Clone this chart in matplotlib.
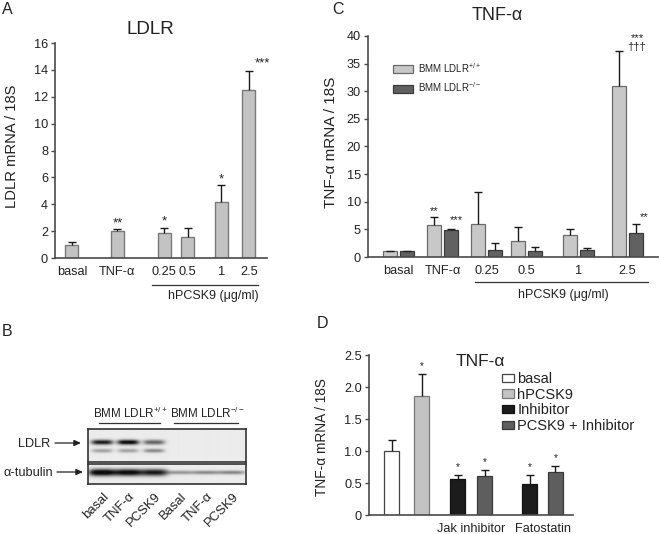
import numpy as np
import matplotlib
matplotlib.use('Agg')
import matplotlib.pyplot as plt
from matplotlib.patches import Patch, FancyArrowPatch
from matplotlib.lines import Line2D

plt.rcParams['font.family'] = ['Liberation Sans', 'DejaVu Sans']
plt.rcParams['mathtext.fontset'] = 'custom'
plt.rcParams['mathtext.rm'] = 'Liberation Sans'
plt.rcParams['mathtext.it'] = 'Liberation Sans'

# ---------------- data ----------------
# Panel A: LDLR mRNA
a_categories = ['basal', 'TNF-α', '0.25', '0.5', '1', '2.5']
a_values = [1.0, 2.0, 1.85, 1.6, 4.2, 12.5]
a_errors = [0.2, 0.15, 0.4, 0.6, 1.2, 1.45]
a_stars = ['', '**', '*', '', '*', '***']
a_yticks = [0, 2, 4, 6, 8, 10, 12, 14, 16]

# Panel C: TNF-alpha mRNA in two genotypes
c_categories = ['basal', 'TNF-α', '0.25', '0.5', '1', '2.5']
c_series = ['BMM LDLR$^{+/+}$', 'BMM LDLR$^{-/-}$']
c_wt_values = [1.0, 5.8, 5.9, 2.9, 4.0, 31.0]
c_wt_errors = [0.1, 1.5, 5.8, 2.6, 1.0, 6.2]
c_ko_values = [1.0, 4.8, 1.3, 1.1, 1.2, 4.3]
c_ko_errors = [0.1, 0.3, 1.3, 0.7, 0.4, 1.6]
c_wt_stars = ['', '**', '', '', '', '***\n†††']
c_ko_stars = ['', '***', '', '', '', '**']
c_yticks = [0, 5, 10, 15, 20, 25, 30, 35, 40]

# Panel D: TNF-alpha mRNA with inhibitors
d_series = ['basal', 'hPCSK9', 'Inhibitor', 'PCSK9 + Inhibitor']
d_groups = ['Jak inhibitor', 'Fatostatin']
d_bar_series = [0, 1, 2, 3, 2, 3]
d_values = [1.0, 1.86, 0.56, 0.61, 0.49, 0.67]
d_errors = [0.17, 0.35, 0.07, 0.09, 0.14, 0.10]
d_stars = ['', '*', '*', '*', '*', '*']
d_yticks = [0, 0.5, 1.0, 1.5, 2.0, 2.5]
d_yticklabels = ['0', '0.5', '1.0', '1.5', '2.0', '2.5']

# Panel B: western blot (relative band intensities)
b_lanes = ['basal', 'TNF-α', 'PCSK9', 'Basal', 'TNF-α', 'PCSK9']
b_groups = ['BMM LDLR$^{+/+}$', 'BMM LDLR$^{-/-}$']
b_ldlr_main = [0.85, 0.95, 0.55, 0.0, 0.0, 0.0]
b_ldlr_minor = [0.30, 0.30, 0.40, 0.0, 0.0, 0.0]
b_tubulin = [1.0, 0.95, 0.85, 0.35, 0.40, 0.42]
b_rows = ['LDLR', 'α-tubulin']

# ---------------- layout helpers ----------------
W, H = 660, 534
fig = plt.figure(figsize=(W / 100, H / 100), dpi=100)
TXT = '#222222'
SPINE = '#4a4a4a'


def ax_px(x0, y0, x1, y1):
    return fig.add_axes([x0 / W, 1 - y1 / H, (x1 - x0) / W, (y1 - y0) / H])


def ftext(x, y, s, **kw):
    kw.setdefault('color', TXT)
    return fig.text(x / W, 1 - y / H, s, **kw)


def fline(x0, x1, y, **kw):
    fig.add_artist(Line2D([x0 / W, x1 / W], [1 - y / H, 1 - y / H],
                          transform=fig.transFigure, **kw))


def style_axes(ax):
    for s in ['top', 'right']:
        ax.spines[s].set_visible(False)
    for s in ['left', 'bottom']:
        ax.spines[s].set_color(SPINE)
        ax.spines[s].set_linewidth(1.2)
    ax.tick_params(axis='y', direction='out', length=3, width=1, color=SPINE,
                   labelsize=9.2, labelcolor=TXT, pad=2)
    ax.tick_params(axis='x', length=0, labelsize=9.2, labelcolor=TXT)


def draw_err(ax, x, vals, errs):
    _, caps, _ = ax.errorbar(x, vals, yerr=[np.zeros(len(vals)), errs], fmt='none',
                             ecolor='#1a1a1a', elinewidth=1.0, capsize=2.6,
                             capthick=1.0, zorder=3)
    caps[0].set_visible(False)


def draw_stars(ax, x, tops, stars, dx=0, dy=2.0, size=7):
    for xi, ti, s in zip(x, tops, stars):
        if s:
            ax.annotate(s, xy=(xi, ti), xytext=(dx, dy), textcoords='offset points',
                        ha='center', va='bottom', fontsize=size, color=TXT,
                        linespacing=0.85, annotation_clip=False)


# ---------------- Panel A ----------------
axA = ax_px(55, 43, 267, 258)
a_pos = np.array([0, 1.75, 3.55, 4.45, 5.75, 6.8])
axA.bar(a_pos, a_values, width=0.5, color='#c3c3c3', edgecolor='#7a7a7a',
        linewidth=1.0, zorder=2)
draw_err(axA, a_pos, a_values, a_errors)
a_tops = np.array(a_values) + np.array(a_errors)
draw_stars(axA, a_pos[:5], a_tops[:5], a_stars[:5], dy=0, size=9.5)
draw_stars(axA, a_pos[5:], a_tops[5:], a_stars[5:], dx=9.5, dy=0.5, size=9.5)
axA.set_xlim(-0.65, 7.5)
axA.set_ylim(0, 16)
axA.set_yticks(a_yticks)
axA.set_xticks(a_pos, a_categories)
style_axes(axA)
axA.tick_params(axis='x', pad=5.5)
ftext(150, 30, 'LDLR', fontsize=13.5, ha='center', va='center')
ftext(12, 146, 'LDLR mRNA / 18S', fontsize=10.6, ha='center', va='center', rotation=90)
fline(152, 258, 285, color='#333333', lw=0.9)
ftext(213, 296, 'hPCSK9 (μg/ml)', fontsize=9, ha='center', va='center')
ftext(2, 10, 'A', fontsize=11.5, ha='left', va='center')

# ---------------- Panel C ----------------
axC = ax_px(368, 36, 658, 257)
c_pos = np.array([0, 1.0, 2.0, 2.9, 4.1, 5.2])
off, bw = 0.193, 0.318
axC.bar(c_pos - off, c_wt_values, width=bw, color='#c8c8c8', edgecolor='#6a6a6a',
        linewidth=0.9, zorder=2, label=c_series[0])
axC.bar(c_pos + off, c_ko_values, width=bw, color='#616161', edgecolor='#3a3a3a',
        linewidth=0.9, zorder=2, label=c_series[1])
draw_err(axC, c_pos - off, c_wt_values, c_wt_errors)
draw_err(axC, c_pos + off, c_ko_values, c_ko_errors)
wt_tops = np.array(c_wt_values) + np.array(c_wt_errors)
ko_tops = np.array(c_ko_values) + np.array(c_ko_errors)
draw_stars(axC, (c_pos - off)[:5], wt_tops[:5], c_wt_stars[:5], dy=0.5, size=8)
draw_stars(axC, (c_pos - off)[5:], wt_tops[5:], c_wt_stars[5:], dx=13, dy=-0.5, size=8)
draw_stars(axC, (c_pos + off)[:5], ko_tops[:5], c_ko_stars[:5], dx=4, dy=2.5, size=8)
draw_stars(axC, (c_pos + off)[5:], ko_tops[5:], c_ko_stars[5:], dx=6, dy=1.5, size=8)
axC.set_xlim(-0.693, 5.898)
axC.set_ylim(0, 40)
axC.set_yticks(c_yticks)
axC.set_xticks(c_pos, c_categories)
style_axes(axC)
axC.tick_params(axis='x', pad=6)
legC = axC.legend(loc='upper left', bbox_to_anchor=(393 / W, 1 - 61 / H),
                  bbox_transform=fig.transFigure, frameon=False, fontsize=7,
                  handlelength=2.1, handleheight=0.9, handletextpad=0.5,
                  labelspacing=0.55, borderpad=0, borderaxespad=0)
for t in legC.get_texts():
    t.set_color(TXT)
ftext(497, 16, 'TNF-α', fontsize=13, ha='center', va='center')
ftext(331, 142, 'TNF-α mRNA / 18S', fontsize=11, ha='center', va='center', rotation=90)
fline(475, 648, 282, color='#333333', lw=0.9)
ftext(563, 295, 'hPCSK9 (μg/ml)', fontsize=9, ha='center', va='center')
ftext(332, 10, 'C', fontsize=11.5, ha='left', va='center')

# ---------------- Panel D ----------------
axD = ax_px(369, 355, 573, 515)
d_pos = np.array([0, 1, 2.2, 3.1, 4.6, 5.45])
d_face = ['#ffffff', '#c3c3c3', '#1c1c1c', '#5e5e5e']
d_edge = ['#444444', '#777777', '#111111', '#3a3a3a']
for i in range(len(d_values)):
    s = d_bar_series[i]
    axD.bar(d_pos[i], d_values[i], width=0.5, color=d_face[s], edgecolor=d_edge[s],
            linewidth=0.9, zorder=2)
draw_err(axD, d_pos, d_values, d_errors)
d_tops = np.array(d_values) + np.array(d_errors)
draw_stars(axD, d_pos, d_tops, d_stars, dy=2.0, size=7)
axD.set_xlim(-0.757, 6.04)
axD.set_ylim(0, 2.5)
axD.set_yticks(d_yticks, d_yticklabels)
axD.set_xticks([(d_pos[2] + d_pos[3]) / 2, (d_pos[4] + d_pos[5]) / 2], d_groups)
style_axes(axD)
axD.tick_params(axis='x', pad=6)
d_handles = [Patch(facecolor=d_face[k], edgecolor=d_edge[k], linewidth=0.9)
             for k in range(len(d_series))]
legD = axD.legend(d_handles, d_series, loc='upper left',
                  bbox_to_anchor=(502 / W, 1 - 372 / H), bbox_transform=fig.transFigure,
                  frameon=False, fontsize=10.5, handlelength=0.8, handleheight=0.5,
                  handletextpad=0.25, labelspacing=0.12, borderpad=0, borderaxespad=0)
for t in legD.get_texts():
    t.set_color(TXT)
ftext(480, 361, 'TNF-α', fontsize=12.5, ha='center', va='center')
ftext(322, 437, 'TNF-α mRNA / 18S', fontsize=9.8, ha='center', va='center', rotation=90)
ftext(317, 323, 'D', fontsize=11.5, ha='left', va='center')

# ---------------- Panel B (western blot) ----------------
ftext(2, 332, 'B', fontsize=11.5, ha='left', va='center')
lane_x = np.arange(len(b_lanes))
xl = (-0.54, 5.54)


def blot_image(rows, nrow, bg=0.925):
    xs = np.linspace(xl[0], xl[1], 320)
    ys = np.linspace(0, 1, nrow)
    X, Y = np.meshgrid(xs, ys)
    dark = np.zeros_like(X)
    for (intens, yc, sig, wid) in rows:
        for i, a in enumerate(intens):
            if a > 0:
                s = sig if a > 0.5 else sig * 0.55
                dark += a * np.exp(-((X - i) / wid) ** 4) * np.exp(-((Y - yc) / s) ** 2)
    return np.clip(bg - dark, 0.05, 1)


axL = ax_px(88, 429, 246, 462)
imgL = blot_image([(b_ldlr_main, 0.40, 0.075, 0.42), (b_ldlr_minor, 0.66, 0.11, 0.40)], 66)
axL.imshow(imgL, cmap='gray', vmin=0, vmax=1, aspect='auto',
           extent=(xl[0], xl[1], 1, 0), interpolation='bilinear')
axT = ax_px(88, 464, 246, 484)
imgT = blot_image([(b_tubulin, 0.45, 0.17, 0.52)], 40)
axT.imshow(imgT, cmap='gray', vmin=0, vmax=1, aspect='auto',
           extent=(xl[0], xl[1], 1, 0), interpolation='bilinear')
for ax in (axL, axT):
    ax.set_xlim(*xl)
    ax.set_ylim(1, 0)
    ax.set_xticks([])
    ax.set_yticks([])
    for s in ax.spines.values():
        s.set_color('#333333')
        s.set_linewidth(1.2)

for i, lab in enumerate(b_lanes):
    axT.text(lane_x[i] + 0.18, 1.55, lab, rotation=45, rotation_mode='anchor',
             ha='right', va='center', fontsize=9.4, color=TXT, transform=axT.transData,
             clip_on=False)

# group labels and lines
ftext(131, 413, b_groups[0], fontsize=8.4, ha='center', va='center')
ftext(207, 413, b_groups[1], fontsize=8.4, ha='center', va='center')
fline(99, 160, 423, color='#333333', lw=0.9)
fline(174, 238, 423, color='#333333', lw=0.9)

# row labels with arrows
ftext(50, 444, b_rows[0], fontsize=9.2, ha='right', va='center')
ftext(53, 473, b_rows[1], fontsize=9.2, ha='right', va='center')
for (x0, x1, y) in [(55, 81, 443), (57, 83, 472)]:
    fig.add_artist(FancyArrowPatch(
        (x0 / W, 1 - y / H), (x1 / W, 1 - y / H), transform=fig.transFigure,
        arrowstyle='-|>,head_length=4,head_width=1.8', color='#222222', lw=0.9,
        shrinkA=0, shrinkB=0, mutation_scale=1))

fig.savefig('out.png', dpi=100)
